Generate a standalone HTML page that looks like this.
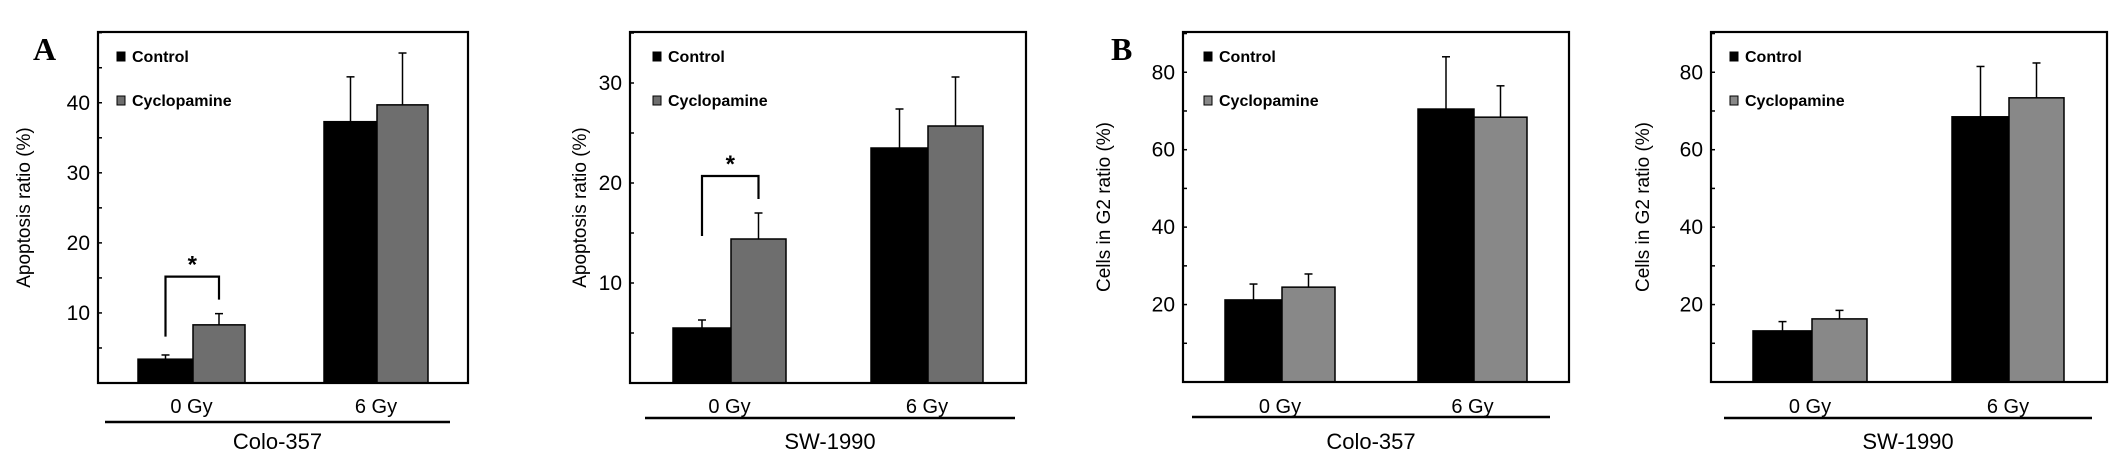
<!DOCTYPE html>
<html><head><meta charset="utf-8"><style>
html,body{margin:0;padding:0;background:#fff;}
svg{display:block;font-family:"Liberation Sans",Arial,sans-serif;}
</style></head><body>
<svg id="fig" width="2126" height="457" viewBox="0 0 2126 457" xmlns="http://www.w3.org/2000/svg">
<text x="33" y="60" font-family="Liberation Serif" font-weight="bold" font-size="32">A</text>
<text x="1111" y="60" font-family="Liberation Serif" font-weight="bold" font-size="32">B</text>
</svg>
<script>
const groups = ["0 Gy", "6 Gy"];
const seriesNames = ["Control", "Cyclopamine"];
// Panel 1: Colo-357 apoptosis
const p1Control = [3.4, 37.3];
const p1ControlErr = [0.6, 6.4];
const p1Cyclo = [8.3, 39.7];
const p1CycloErr = [1.6, 7.4];
const p1Ticks = [10, 20, 30, 40];
// Panel 2: SW-1990 apoptosis
const p2Control = [5.5, 23.5];
const p2ControlErr = [0.8, 3.9];
const p2Cyclo = [14.4, 25.7];
const p2CycloErr = [2.6, 4.9];
const p2Ticks = [10, 20, 30];
// Panel 3: Colo-357 G2
const p3Control = [21.2, 70.5];
const p3ControlErr = [4.1, 13.5];
const p3Cyclo = [24.5, 68.4];
const p3CycloErr = [3.4, 8.1];
const p3Ticks = [20, 40, 60, 80];
// Panel 4: SW-1990 G2
const p4Control = [13.2, 68.5];
const p4ControlErr = [2.4, 13.0];
const p4Cyclo = [16.3, 73.4];
const p4CycloErr = [2.2, 9.0];
const p4Ticks = [20, 40, 60, 80];

const NS = "http://www.w3.org/2000/svg";
const svg = document.getElementById("fig");
function mk(tag, attrs, parent) {
  const e = document.createElementNS(NS, tag);
  for (const k in attrs) e.setAttribute(k, attrs[k]);
  (parent || svg).appendChild(e);
  return e;
}

const panels = [
  {x0:98, x1:468, yTop:32, yBot:383, max:50.1, ctrl:p1Control, ctrlE:p1ControlErr, cyc:p1Cyclo, cycE:p1CycloErr, ticks:p1Ticks, minorStep:5,
   bars:[[138,193,245],[324,377,428]], ytitle:"Apoptosis ratio (%)", tx:30, cell:"Colo-357", ul:[105,450], ulY:422, cyclColor:"#6e6e6e", sig:true, legX:117},
  {x0:630, x1:1026, yTop:32, yBot:383, max:35.1, ctrl:p2Control, ctrlE:p2ControlErr, cyc:p2Cyclo, cycE:p2CycloErr, ticks:p2Ticks, minorStep:5,
   bars:[[673,731,786],[871,928,983]], ytitle:"Apoptosis ratio (%)", tx:586, cell:"SW-1990", ul:[645,1015], ulY:418, cyclColor:"#6e6e6e", sig:true, legX:653},
  {x0:1183, x1:1569, yTop:32, yBot:382, max:90.4, ctrl:p3Control, ctrlE:p3ControlErr, cyc:p3Cyclo, cycE:p3CycloErr, ticks:p3Ticks, minorStep:10,
   bars:[[1225,1282,1335],[1418,1474,1527]], ytitle:"Cells in G2 ratio (%)", tx:1110, cell:"Colo-357", ul:[1192,1550], ulY:417, cyclColor:"#888888", sig:false, legX:1204},
  {x0:1711, x1:2107, yTop:32, yBot:382, max:90.4, ctrl:p4Control, ctrlE:p4ControlErr, cyc:p4Cyclo, cycE:p4CycloErr, ticks:p4Ticks, minorStep:10,
   bars:[[1753,1812,1867],[1952,2009,2064]], ytitle:"Cells in G2 ratio (%)", tx:1649, cell:"SW-1990", ul:[1724,2092], ulY:418, cyclColor:"#888888", sig:false, legX:1730}
];

panels.forEach((p, pi) => {
  const g = mk("g", {});
  
  
  const y = v => p.yBot - (v / p.max) * (p.yBot - p.yTop);
  // minor ticks
  for (let v = p.minorStep; v < p.max; v += p.minorStep) {
    const t = mk("line", {x1:p.x0, x2:p.x0 + 4, y1:y(v), y2:y(v), stroke:"#000", "stroke-width":1.5}, g);
    
    
  }
  p.ticks.forEach(v => {
    const t = mk("text", {x:p.x0 - 8, y:y(v) + 7, "text-anchor":"end", "font-size":21}, g);
    t.textContent = v;
    
    
  });
  // bars
  groups.forEach((gName, gi) => {
    const b = p.bars[gi];
    const specs = [[b[0], b[1], p.ctrl[gi], p.ctrlE[gi], "#000", "control"], [b[1], b[2], p.cyc[gi], p.cycE[gi], p.cyclColor, "cyclopamine"]];
    specs.forEach(s => {
      const top = y(s[2]);
      const r = mk("rect", {x:s[0], y:top, width:s[1] - s[0], height:p.yBot - top, fill:s[4], stroke:"#000", "stroke-width":1.5}, g);
      
      
      const cx = (s[0] + s[1]) / 2, et = y(s[2] + s[3]);
      const e1 = mk("line", {x1:cx, x2:cx, y1:top, y2:et, stroke:"#000", "stroke-width":1.5}, g);
      
      
      const e2 = mk("line", {x1:cx - 4, x2:cx + 4, y1:et, y2:et, stroke:"#000", "stroke-width":1.5}, g);
      
      
    });
    const lab = mk("text", {x:(b[0] + b[2]) / 2, y:413, "text-anchor":"middle", "font-size":20}, g);
    lab.textContent = gName;
    
    
  });
  // frame
  const fr = mk("rect", {x:p.x0, y:p.yTop, width:p.x1 - p.x0, height:p.yBot - p.yTop, fill:"none", stroke:"#000", "stroke-width":2.2}, g);
  
  
  // significance bracket
  if (p.sig) {
    const b = p.bars[0];
    const lx = (b[0] + b[1]) / 2, rx = (b[1] + b[2]) / 2;
    const topC = y(p.cyc[0] + p.cycE[0]);
    const by = topC - 37, ly = y(p.ctrl[0] + p.ctrlE[0]) - 15;
    const br = mk("polyline", {points:`${lx},${Math.min(ly, by + 60)} ${lx},${by} ${rx},${by} ${rx},${by + 23}`, fill:"none", stroke:"#000", "stroke-width":2.2}, g);
    
    
    const st = mk("text", {x:(lx + rx) / 2, y:by - 4, "text-anchor":"middle", "font-size":24, "font-weight":"bold"}, g);
    st.textContent = "*";
    
    
  }
  // legend
  seriesNames.forEach((n, i) => {
    const ly = 52 + i * 44;
    const sq = mk("rect", {x:p.legX, y:ly, width:8, height:9, fill:i ? p.cyclColor : "#000", stroke:"#000", "stroke-width":1}, g);
    
    
    const t = mk("text", {x:p.legX + 15, y:ly + 10, "font-size":16, "font-weight":"bold"}, g);
    t.textContent = n;
    
    
  });
  // y title
  const yt = mk("text", {x:0, y:0, "text-anchor":"middle", "font-size":19, transform:`translate(${p.tx},${(p.yTop + p.yBot) / 2}) rotate(-90)`}, g);
  yt.textContent = p.ytitle;
  
  
  // underline and cell line
  const ul = mk("line", {x1:p.ul[0], x2:p.ul[1], y1:p.ulY, y2:p.ulY, stroke:"#000", "stroke-width":2.5}, g);
  
  
  const cl = mk("text", {x:(p.ul[0] + p.ul[1]) / 2, y:449, "text-anchor":"middle", "font-size":22}, g);
  cl.textContent = p.cell;
  
  
});
</script>
</body></html>
